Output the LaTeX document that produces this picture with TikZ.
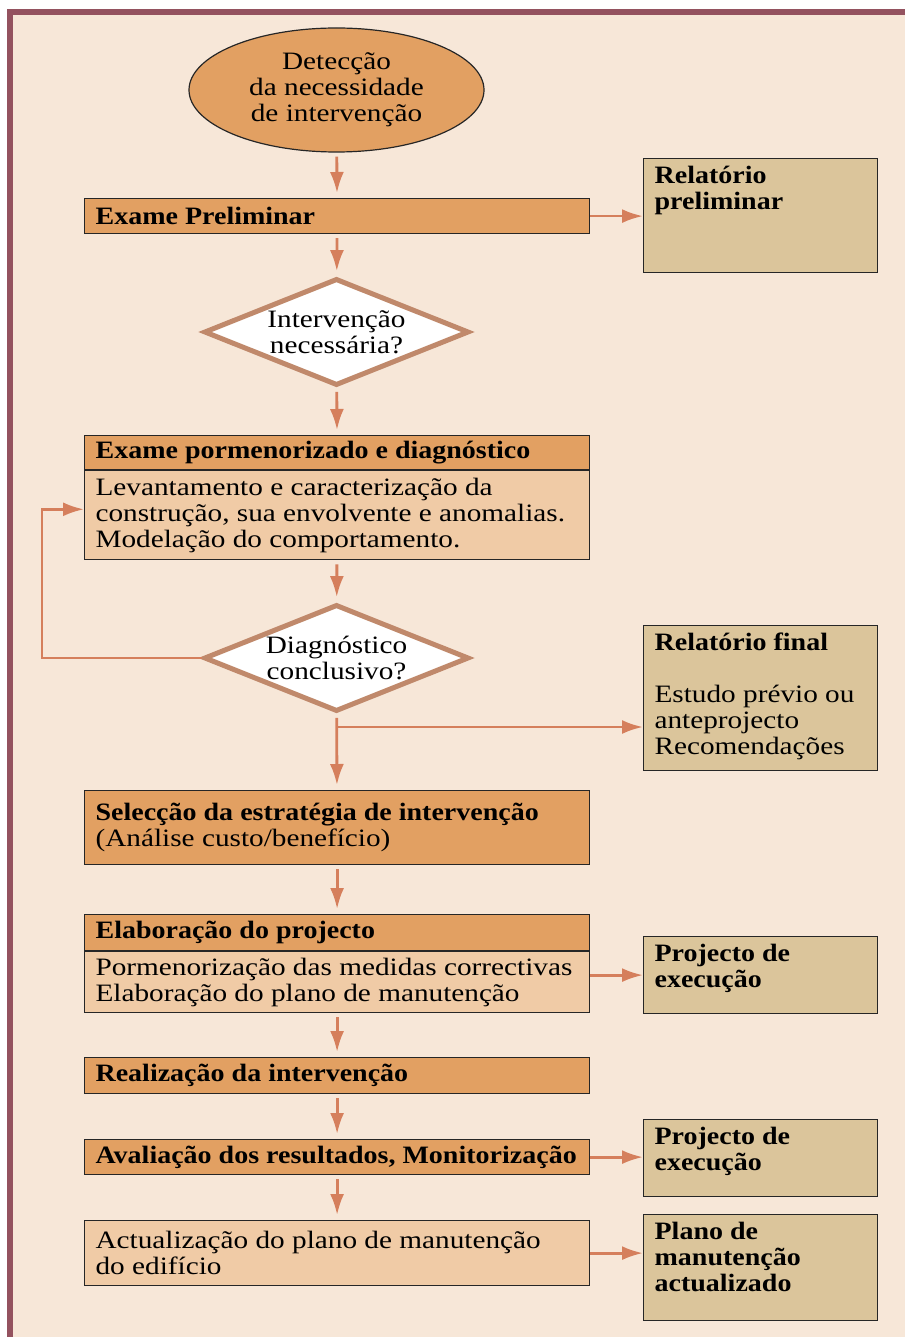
\documentclass[tikz,border=0pt]{standalone}
\usepackage{fontspec}
\setmainfont[UprightFeatures={FakeStretch=1.17}, BoldFeatures={FakeStretch=1.12}]{Liberation Serif}
\usepackage{tikz}
\definecolor{paper}{HTML}{F7E7D8}
\definecolor{frame}{HTML}{94525F}
\definecolor{ochre}{HTML}{E2A062}
\definecolor{peach}{HTML}{F0CBA6}
\definecolor{sand}{HTML}{DBC59B}
\definecolor{flow}{HTML}{D57F5C}
\definecolor{rim}{HTML}{C0896B}
\usetikzlibrary{shapes,arrows.meta,positioning}
\tikzset{every node/.style={font=\fontsize{25}{26}\selectfont}}
\tikzset{start/.style={ellipse, draw=black!85, line width=1.2pt, fill=ochre, align=center,
 minimum width=295pt, minimum height=124pt, inner sep=0pt}}
\tikzset{decision/.style={diamond, draw=rim, line width=5pt, fill=white, align=center,
 aspect=2.4, minimum width=265pt, minimum height=107pt, inner sep=0pt}}
\tikzset{stage/.style={rectangle, draw=black!85, line width=1.2pt, fill=ochre, anchor=north west,
 text width=483pt, align=flush left, inner xsep=11pt, inner ysep=0pt, minimum width=505pt}}
\tikzset{stagebody/.style={stage, fill=peach}}
\tikzset{report/.style={rectangle, draw=black!85, line width=1.2pt, fill=sand, anchor=north west,
 text width=212pt, align=flush left, inner xsep=11pt, inner ysep=5pt, text height=20pt, minimum width=234pt}}
\tikzset{line/.style={draw=flow, line width=2.8pt, -{Latex[length=21pt,width=14pt]}}}
\tikzset{flowdown/.style={line, shorten <=4pt, shorten >=5pt}}
\begin{document}
\begin{tikzpicture}[x=1pt, y=-1pt]
        \path[use as bounding box] (0,0) rectangle (904,1337);
        \fill[white] (0,0) rectangle (904,1337);
        \fill[paper] (10,12) rectangle (930,1360);
        \draw[frame, line width=5.4pt] (10,12) rectangle (930,1360);

        \node[start]   (detect) at (336.5,90) {Detecção\\da necessidade\\de intervenção};
        \node[stage, minimum height=35pt] (prelim) at (84,198) {\textbf{Exame Preliminar}};
        \node[report, text depth=84pt, font=\fontsize{25}{26}\selectfont\bfseries] (rprelim) at (643,158) {Relatório\\preliminar};
        \node[decision] (need) at (336.5,332) {Intervenção\\necessária?};
        \node[stage, minimum height=34pt] (detail) at (84,435) {\textbf{Exame pormenorizado e diagnóstico}};
        \node[stagebody, minimum height=89pt] (survey) at (detail.south west) {Levantamento e caracterização da\\construção, sua envolvente e anomalias.\\Modelação do comportamento.};
        \node[decision] (diag) at (336.5,658) {Diagnóstico\\conclusivo?};
        \node[report, text depth=115pt] (rfinal) at (643,625) {\textbf{Relatório final}\\[26pt]Estudo prévio ou\\anteprojecto\\Recomendações};
        \node[stage, minimum height=74pt] (strategy) at (84,790) {\textbf{Selecção da estratégia de intervenção}\\(Análise custo/benefício)};
        \node[stage, minimum height=36pt] (project) at (84,914) {\textbf{Elaboração do projecto}};
        \node[stagebody, minimum height=61pt] (measures) at (project.south west) {Pormenorização das medidas correctivas\\Elaboração do plano de manutenção};
        \node[report, text depth=47pt, font=\fontsize{25}{26}\selectfont\bfseries] (rexec) at (643,936) {Projecto de\\execução};
        \node[stage, minimum height=36pt] (works) at (84,1057) {\textbf{Realização da intervenção}};
        \node[stage, minimum height=35pt] (assess) at (84,1139) {\textbf{Avaliação dos resultados, Monitorização}};
        \node[report, text depth=47pt, font=\fontsize{25}{26}\selectfont\bfseries] (rexec2) at (643,1119) {Projecto de\\execução};
        \node[stagebody, minimum height=65pt] (update) at (84,1220) {Actualização do plano de manutenção\\do edifício};
        \node[report, text depth=76pt, font=\fontsize{25}{26}\selectfont\bfseries] (rplan) at (643,1214) {Plano de\\manutenção\\actualizado};
        \coordinate (fork) at ([yshift=-13pt]diag.south);

        \path[flowdown] (detect) -- (prelim);
        \path[line] (prelim.east) -- (prelim.east -| rprelim.west);
        \path[flowdown] (prelim) -- (need);
        \path[flowdown] (need) -- (detail);
        \path[flowdown] (survey) -- (diag);
        \path[line] (diag.west) -| ([xshift=-42pt,yshift=6pt]survey.west) -- ([yshift=6pt]survey.west);
        \path[flowdown] (diag) -- (strategy);
        \path[line] (fork) -- (fork -| rfinal.west);
        \path[flowdown] (strategy) -- (project);
        \path[line] (rexec.west -| measures.east) -- (rexec.west);
        \path[flowdown] (measures) -- (works);
        \path[flowdown] (works) -- (assess);
        \path[line] (assess.east) -- (assess.east -| rexec2.west);
        \path[flowdown] (assess) -- (update);
        \path[line] (update.east) -- (update.east -| rplan.west);

     \end{tikzpicture}
\end{document}
